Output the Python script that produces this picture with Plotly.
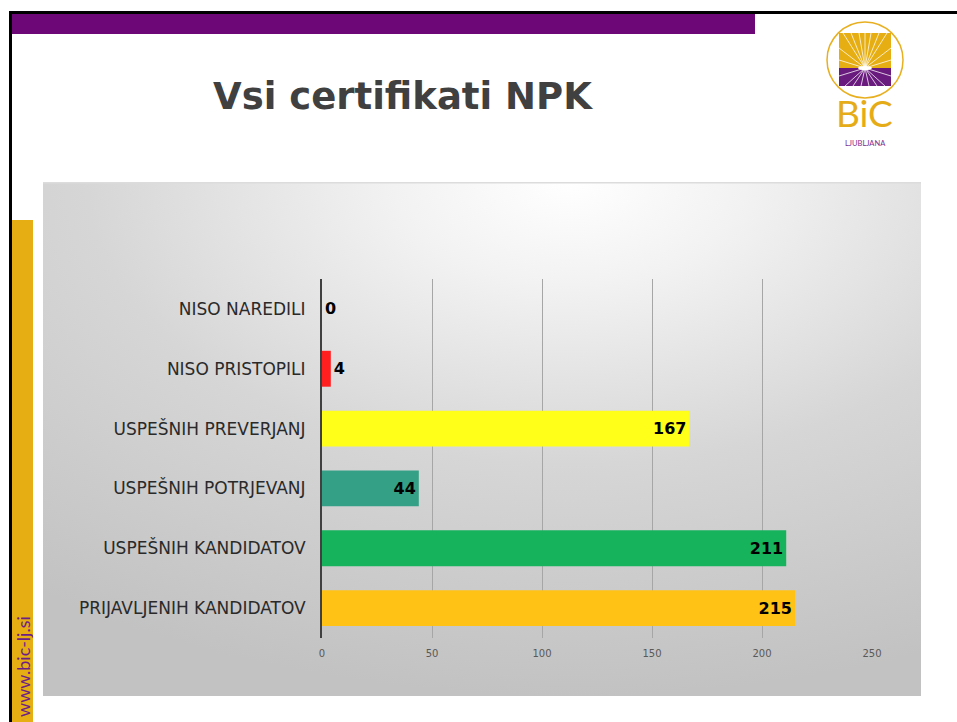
import base64
import plotly.graph_objects as go

W, H = 957, 722

categories = ["PRIJAVLJENIH KANDIDATOV", "USPEŠNIH KANDIDATOV", "USPEŠNIH POTRJEVANJ",
              "USPEŠNIH PREVERJANJ", "NISO PRISTOPILI", "NISO NAREDILI"]
values = [215, 211, 44, 167, 4, 0]
bar_colors = ["#FFC215", "#17B25C", "#34A086", "#FFFF1A", "#FF1F1F", "#FF1F1F"]
label_pos = ["inside", "inside", "inside", "inside", "outside", "outside"]
x_ticks = [0, 50, 100, 150, 200, 250]
title_text = "Vsi certifikati NPK"


def px(x):
    return x / W


def py(y):
    return 1 - y / H


svg = f'''<svg xmlns="http://www.w3.org/2000/svg" width="878" height="514" viewBox="0 0 878 514">
<defs><radialGradient id="g" cx="0.6" cy="0" r="1.0" gradientUnits="objectBoundingBox">
<stop offset="0" stop-color="#ffffff"/><stop offset="0.2" stop-color="#f2f2f2"/>
<stop offset="0.55" stop-color="#d6d6d6"/><stop offset="1" stop-color="#c2c2c2"/>
</radialGradient></defs>
<rect width="878" height="514" fill="url(#g)"/>
<rect x="0" y="0" width="878" height="1.5" fill="#dcdcdc"/>
</svg>'''
svg_uri = "data:image/svg+xml;base64," + base64.b64encode(svg.encode()).decode()

fig = go.Figure()
fig.add_trace(go.Bar(
    y=categories, x=values, orientation="h",
    marker=dict(color=bar_colors, line=dict(width=0)),
    text=[str(v) for v in values], textposition=label_pos, insidetextanchor="end",
    textfont=dict(family="DejaVu Sans", size=16, color="black", weight="bold"),
    constraintext="none", cliponaxis=False, width=0.6, hoverinfo="skip",
))

shapes = [
    # slide frame lines
    dict(type="rect", xref="paper", yref="paper", x0=px(9), x1=1, y0=py(11), y1=py(14),
         fillcolor="black", line=dict(width=0)),
    dict(type="rect", xref="paper", yref="paper", x0=px(9), x1=px(12), y0=py(11), y1=0,
         fillcolor="black", line=dict(width=0)),
    dict(type="rect", xref="paper", yref="paper", x0=px(12), x1=px(755), y0=py(14), y1=py(34),
         fillcolor="#6D0677", line=dict(width=0)),
    dict(type="rect", xref="paper", yref="paper", x0=px(12), x1=px(33), y0=py(220), y1=0,
         fillcolor="#E6AE12", line=dict(width=0)),
    # logo
    dict(type="rect", xref="paper", yref="paper", x0=px(839), x1=px(891), y0=py(33), y1=py(68),
         fillcolor="#E6AE12", line=dict(width=0)),
    dict(type="rect", xref="paper", yref="paper", x0=px(839), x1=px(891), y0=py(68), y1=py(86),
         fillcolor="#6A1B7E", line=dict(width=0)),
    dict(type="circle", xref="paper", yref="paper", x0=px(827), x1=px(903), y0=py(22), y1=py(98),
         line=dict(color="#E8B020", width=1.5)),
]
cx, cy = 865, 68
ray_ends = [(839, 60), (839, 48), (843, 33), (851, 33), (859, 33), (865, 33), (871, 33),
            (879, 33), (887, 33), (891, 48), (891, 60),
            (839, 76), (845, 86), (853, 86), (861, 86), (869, 86), (877, 86), (885, 86), (891, 76)]
for ex, ey in ray_ends:
    shapes.append(dict(type="line", xref="paper", yref="paper", x0=px(cx), y0=py(cy),
                       x1=px(ex), y1=py(ey), line=dict(color="rgba(255,255,255,0.75)", width=1)))
shapes.append(dict(type="circle", xref="paper", yref="paper", x0=px(858), x1=px(872),
                   y0=py(66), y1=py(70), fillcolor="white", line=dict(width=0)))

annotations = [
    dict(text=title_text, x=px(403), y=py(97), xref="paper", yref="paper",
         showarrow=False, xanchor="center", yanchor="middle",
         font=dict(family="DejaVu Sans", size=37, color="#404040", weight="bold")),
    dict(text="BiC", x=px(864), y=py(113), xref="paper", yref="paper",
         showarrow=False, xanchor="center", yanchor="middle",
         font=dict(family="Lato", size=37, color="#E6AC17")),
    dict(text="LJUBLJANA", x=px(865), y=py(143), xref="paper", yref="paper",
         showarrow=False, xanchor="center", yanchor="middle",
         font=dict(family="Lato", size=7.5, color="#7B2D8E")),
    dict(text="www.bic-lj.si", x=px(23), y=py(667), xref="paper", yref="paper",
         showarrow=False, xanchor="center", yanchor="middle", textangle=-90,
         font=dict(family="Lato", size=18, color="#6D1F88")),
]

fig.update_layout(
    width=W, height=H, autosize=False, margin=dict(l=0, r=0, t=0, b=0, pad=0),
    paper_bgcolor="white", plot_bgcolor="#D9D9D9",
    showlegend=False, bargap=0.4,
    shapes=shapes, annotations=annotations,
    images=[dict(source=svg_uri, xref="paper", yref="paper", x=px(43), y=py(182),
                 sizex=878 / W, sizey=514 / H, sizing="stretch", xanchor="left",
                 yanchor="top", layer="below")],
    xaxis=dict(domain=[px(322), px(872)], range=[0, 250], tickvals=x_ticks,
               showgrid=True, gridcolor="#A6A6A6", gridwidth=1, zeroline=False,
               tickfont=dict(family="DejaVu Sans", size=10, color="#595959"),
               ticks="", ticklabelstandoff=8, fixedrange=True, automargin=False),
    yaxis=dict(domain=[py(638), py(279)], categoryorder="array", categoryarray=categories,
               showline=True, linecolor="#404040", linewidth=2, showgrid=False,
               tickfont=dict(family="DejaVu Sans", size=17, color="#2a2a2a"),
               ticks="", ticklabelstandoff=11, fixedrange=True, automargin=False),
)

fig.write_html(
    "out.html",
    config={"responsive": False, "displayModeBar": False},
    post_script="document.body.style.margin='0';document.body.style.overflow='hidden';",
)
